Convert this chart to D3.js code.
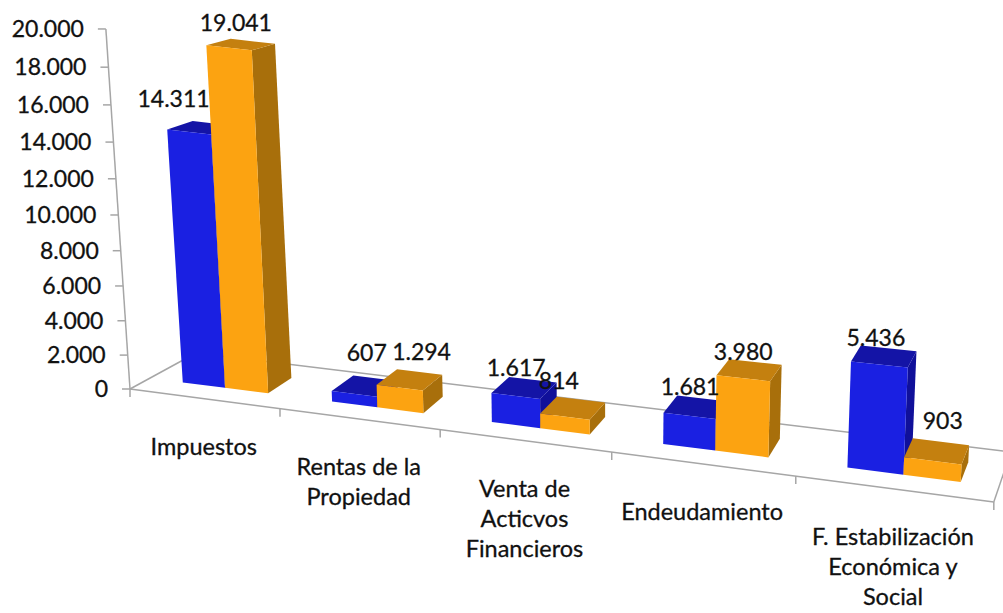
<!DOCTYPE html>
<html>
<head>
<meta charset="utf-8">
<script src="https://cdn.jsdelivr.net/npm/d3@7"></script>
<style>
	html, body { margin: 0; padding: 0; background: #fff; }
	text { font-family: Lato, "Open Sans", sans-serif; fill: #111; stroke: #111; stroke-width: 0.3px; }
</style>
</head>
<body>
<script>
var categories = [["Impuestos"], ["Rentas de la", "Propiedad"], ["Venta de", "Acticvos", "Financieros"], ["Endeudamiento"], ["F. Estabilización", "Económica y", "Social"]];
var seriesA = [14311, 607, 1617, 1681, 5436];
var seriesB = [19041, 1294, 814, 3980, 903];
var tickValues = [0, 2000, 4000, 6000, 8000, 10000, 12000, 14000, 16000, 18000, 20000];

// label nudges from the top of each bar, Excel moved them by hand
var shiftA = [[-28, -29], [2, -33], [-8, -20], [-6, -20], [-8, -18]];
var shiftB = [[-5, -22], [12, -28], [-14, -27], [-6, -18], [6, -30]];

var colorsA = {front: "#1a20e2", top: "#1414a6", side: "#10109a"};
var colorsB = {front: "#fca311", top: "#c4800f", side: "#a86f0b"};

var width = 1003, height = 613;
var svg = d3.select("body").append("svg")
	.attr("width", width)
	.attr("height", height)
	.style("display", "block");

var fmt = d3.formatLocale({decimal: ",", thousands: ".", grouping: [3], currency: ["", ""]}).format(",d");

var tScale = d3.scaleLinear().domain([0, 20000]).range([0, 1]);
var band = d3.scaleBand().domain(d3.range(categories.length)).range([0.02, 5.02]).paddingInner(0.42).paddingOuter(0.21);
var inner = d3.scaleBand().domain([0, 1]).range([0, band.bandwidth()]);

var leanScale = d3.scaleLinear().domain([0, 5]).range([-0.067, 0.052]);
var depthX = d3.scaleLinear().domain([0, 5]).range([66, 17]);
var depthY = d3.scaleLinear().domain([0, 5]).range([-36, -50]);
var boost = d3.scaleLinear().domain([0, 1, 5]).range([1, 1.005, 1.17]);
var barFront = 0.3, barBack = 0.7;

// hand fitted perspective of the tilted chart, u = category units, d = floor depth, t = value 0..1
function project(u, d, t) {
	var w = 1 - 0.0319 * u;
	var h = (389 - (389 - 361.9 * t) / (1 - 0.0645 * t)) * boost(u);
	var dy = d <= barFront ? d : barFront + (d - barFront) * (1 - 0.6 * t);
	return [
		(130 + 141.06 * u) / w + leanScale(u) * h + d * depthX(u),
		(389 + 6.59 * u) / w - h + dy * depthY(u)
	];
}

function face(points) {
	return "M" + points.map(function (p) { return p.join(","); }).join("L") + "Z";
}

function segment(a, b) {
	svg.append("line")
		.attr("x1", a[0]).attr("y1", a[1])
		.attr("x2", b[0]).attr("y2", b[1])
		.attr("stroke", "#a6a6a6")
		.attr("stroke-width", 1.5);
}

// floor
segment(project(0, 0, 0), project(5, 0, 0));
segment(project(0, 0, 0), project(0, 1, 0));
segment(project(0, 1, 0), project(5, 1, 0));
segment(project(5, 0, 0), project(5, 1, 0));

// value axis
segment(project(0, 0, 0), project(0, 0, 1));
tickValues.forEach(function (v) {
	var p = project(0, 0, tScale(v));
	segment([p[0] - 8, p[1]], p);
	svg.append("text")
		.attr("x", p[0] - 22)
		.attr("y", p[1])
		.attr("dy", "0.35em")
		.attr("text-anchor", "end")
		.attr("font-size", 23)
		.text(fmt(v));
});

// category ticks and labels
d3.range(categories.length + 1).forEach(function (i) {
	var p = project(i, 0, 0);
	segment(p, [p[0], p[1] + 8]);
});
categories.forEach(function (lines, i) {
	var p = project(i + 0.5, 0, 0);
	lines.forEach(function (line, j) {
		svg.append("text")
			.attr("x", p[0])
			.attr("y", p[1] + 48 + j * 30)
			.attr("dy", "0.35em")
			.attr("text-anchor", "middle")
			.attr("font-size", 23.5)
			.text(line);
	});
});

function drawBar(i, s, value, colors) {
	var u0 = band(i) + inner(s), u1 = u0 + inner.bandwidth();
	var t = tScale(value);
	var a = project(u0, barFront, 0), b = project(u1, barFront, 0);
	var c = project(u1, barFront, t), e = project(u0, barFront, t);
	var f = project(u0, barBack, t), g = project(u1, barBack, t), k = project(u1, barBack, 0);
	svg.append("path").attr("d", face([b, k, g, c])).attr("fill", colors.side);
	svg.append("path").attr("d", face([e, f, g, c])).attr("fill", colors.top);
	svg.append("path").attr("d", face([a, b, c, e])).attr("fill", colors.front);
}

function drawLabel(i, s, value, shift) {
	var u0 = band(i) + inner(s), u1 = u0 + inner.bandwidth();
	var p = project((u0 + u1) / 2, (barFront + barBack) / 2, tScale(value));
	svg.append("text")
		.attr("x", p[0] + shift[0])
		.attr("y", p[1] + shift[1])
		.attr("dy", "0.35em")
		.attr("text-anchor", "middle")
		.attr("font-size", 23)
		.text(fmt(value));
}

categories.forEach(function (c, i) {
	drawBar(i, 0, seriesA[i], colorsA);
	drawBar(i, 1, seriesB[i], colorsB);
});
categories.forEach(function (c, i) {
	drawLabel(i, 0, seriesA[i], shiftA[i]);
	drawLabel(i, 1, seriesB[i], shiftB[i]);
});
</script>
</body>
</html>
